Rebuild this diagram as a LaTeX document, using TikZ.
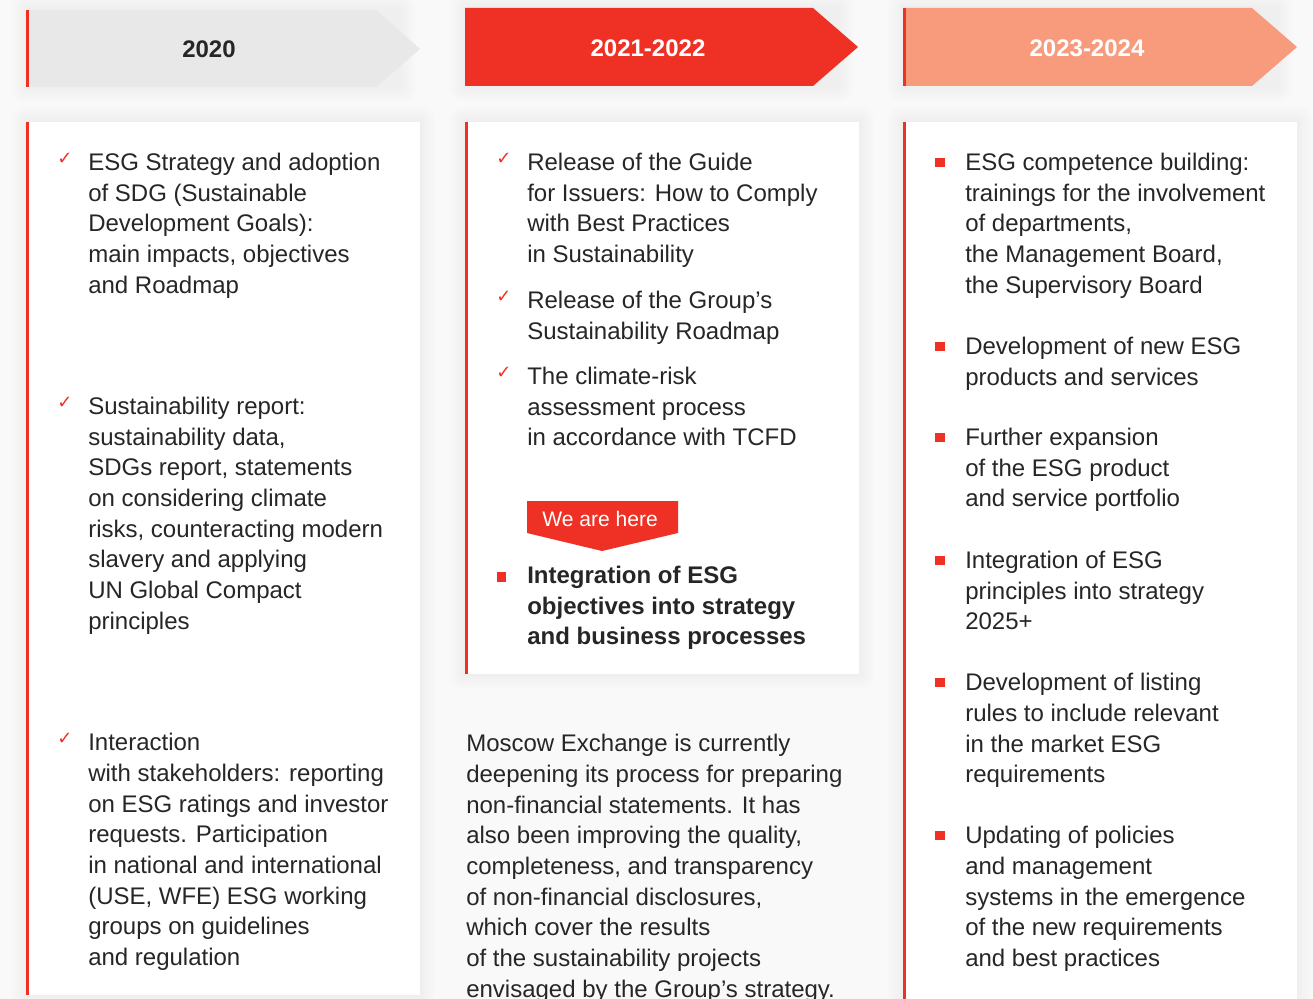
\documentclass[tikz,border=0pt]{standalone}
\usepackage{fontspec}
\setmainfont{Liberation Sans}
\newfontfamily\symfont{DejaVu Sans}
\definecolor{esgred}{RGB}{238,49,36}
\definecolor{esgsalmon}{RGB}{248,155,124}
\definecolor{esggrey}{RGB}{232,232,232}
\definecolor{esgtext}{RGB}{38,38,38}
\definecolor{esgback}{RGB}{249,249,249}

\newcommand{\softshade}[2]{%
  \foreach \r in {1,...,10}
    \fill[black, opacity=0.005, rounded corners=\r] ($(#1)+(-1.6*\r,-1.6*\r)$) rectangle ($(#2)+(1.6*\r,1.6*\r)$);}

\usetikzlibrary{calc}

\begin{document}
\begin{tikzpicture}[x=0.75pt, y=-0.75pt]
        \tikzstyle{yr_label}  = [inner sep=0pt, font=\fontsize{18}{22}\selectfont\bfseries]
        \tikzstyle{item_txt}  = [anchor=north west, align=left, inner sep=0pt, text=esgtext, font=\fontsize{18}{23}\selectfont, execute at begin node={\strut}]
        \tikzstyle{item_bold} = [item_txt, font=\fontsize{18}{23}\selectfont\bfseries]
        \tikzstyle{chk}       = [inner sep=0pt, text=esgred, font=\symfont\fontsize{13.5}{14}\selectfont]
        \tikzstyle{sq}        = [inner sep=0pt, fill=esgred, minimum size=6.8pt]

        \fill[esgback] (0,0) rectangle (1313,999);
        \useasboundingbox (0,0) rectangle (1313,999);

        % soft shadows
        \softshade{27,10}{400,87}
        \softshade{465,8}{838,86}
        \softshade{903,8}{1277,86}
        \softshade{27,122}{420,995}
        \softshade{465,122}{859,674}
        \softshade{903,122}{1297,1010}

        % year headers
        \fill[esggrey]   (27,10) -- (376,10) -- (420,49) -- (376,87) -- (27,87) -- cycle;
        \fill[esgred]    (465,8) -- (813,8) -- (858,47) -- (813,86) -- (465,86) -- cycle;
        \fill[esgsalmon] (903,8) -- (1252,8) -- (1297,47) -- (1252,86) -- (903,86) -- cycle;

        \node[yr_label, text=esgtext] at (209,49) (y2020) {2020};
        \node[yr_label, text=white]   at (648,48) (y2021) {2021-2022};
        \node[yr_label, text=white]   at (1087,48) (y2023) {2023-2024};

        % cards
        \fill[white] (27,122) rectangle (420,995);
        \fill[white] (465,122) rectangle (859,674);
        \fill[white] (903,122) rectangle (1297,1010);

        \fill[esgred] (26,10) rectangle (29,87);
        \fill[esgred] (26,122) rectangle (29,995);
        \fill[esgred] (465,122) rectangle (468,674);
        \fill[esgred] (903,8) rectangle (906,86);
        \fill[esgred] (903,122) rectangle (906,1010);

        % 2020
        \node[chk] at (65,159) (c1a) {✓};
        \node[item_txt] at (88,153) (t1a) {ESG Strategy and adoption\\of SDG (Sustainable\\Development Goals):\\main impacts, objectives\\and Roadmap};

        \node[chk] at (65,403) (c1b) {✓};
        \node[item_txt] at (88,397) (t1b) {Sustainability report:\\sustainability data,\\SDGs report, statements\\on considering climate\\risks, counteracting modern\\slavery and applying\\UN Global Compact\\principles};

        \node[chk] at (65,739) (c1c) {✓};
        \node[item_txt] at (88,733) (t1c) {Interaction\\with stakeholders: reporting\\on ESG ratings and investor\\requests. Participation\\in national and international\\(USE, WFE) ESG working\\groups on guidelines\\and regulation};

        % 2021-2022
        \node[chk] at (504,159) (c2a) {✓};
        \node[item_txt] at (527,153) (t2a) {Release of the Guide\\for Issuers: How to Comply\\with Best Practices\\in Sustainability};

        \node[chk] at (504,297) (c2b) {✓};
        \node[item_txt] at (527,291) (t2b) {Release of the Group’s\\Sustainability Roadmap};

        \node[chk] at (504,373) (c2c) {✓};
        \node[item_txt] at (527,367) (t2c) {The climate-risk\\assessment process\\in accordance with TCFD};

        \fill[esgred] (527,501) -- (678,501) -- (678,533) -- (602,551) -- (527,533) -- cycle;
        \node[inner sep=0pt, anchor=base west, text=white, font=\fontsize{15.8}{18}\selectfont] at (542,526) (here) {We are here};

        \node[sq] at (501.5,577) (s2d) {};
        \node[item_bold] at (527,566) (t2d) {Integration of ESG\\objectives into strategy\\and business processes};

        \node[item_txt] at (466,734) (t2e) {Moscow Exchange is currently\\deepening its process for preparing\\non-financial statements. It has\\also been improving the quality,\\completeness, and transparency\\of non-financial disclosures,\\which cover the results\\of the sustainability projects\\envisaged by the Group’s strategy.};

        % 2023-2024
        \node[sq] at (940,162.5) (s3a) {};
        \node[item_txt] at (965,153) (t3a) {ESG competence building:\\trainings for the involvement\\of departments,\\the Management Board,\\the Supervisory Board};

        \node[sq] at (940,346.5) (s3b) {};
        \node[item_txt] at (965,337) (t3b) {Development of new ESG\\products and services};

        \node[sq] at (940,437.5) (s3c) {};
        \node[item_txt] at (965,428) (t3c) {Further expansion\\of the ESG product\\and service portfolio};

        \node[sq] at (940,560.5) (s3d) {};
        \node[item_txt] at (965,551) (t3d) {Integration of ESG\\principles into strategy\\2025+};

        \node[sq] at (940,682.5) (s3e) {};
        \node[item_txt] at (965,673) (t3e) {Development of listing\\rules to include relevant\\in the market ESG\\requirements};

        \node[sq] at (940,835.5) (s3f) {};
        \node[item_txt] at (965,826) (t3f) {Updating of policies\\and management\\systems in the emergence\\of the new requirements\\and best practices};
\end{tikzpicture}
\end{document}
